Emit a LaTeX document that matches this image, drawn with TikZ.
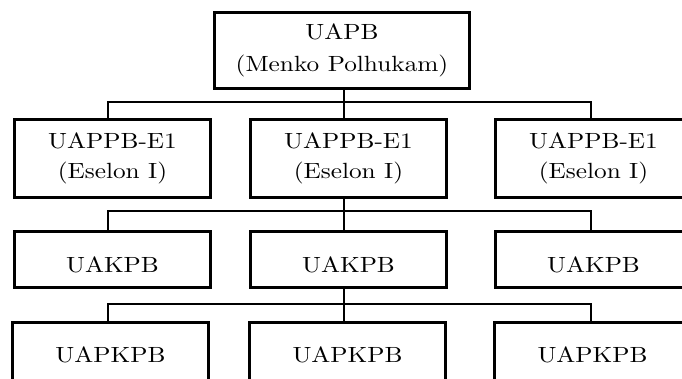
\documentclass[tikz,border=0pt]{standalone}
\usepackage{fontspec}
\setmainfont{lmroman10-regular.otf}[FakeStretch=1.15]
\begin{document}
\begin{tikzpicture}[x=1pt,y=-1pt,
  box/.style={draw, line width=2.6pt, rectangle, inner sep=0pt, anchor=north west, align=center},
  bigbox/.style={box, minimum width=255.4pt, minimum height=76.4pt, font=\fontsize{22}{32}\selectfont},
  tallbox/.style={box, minimum width=196.4pt, minimum height=78.4pt, font=\fontsize{22}{30}\selectfont},
  shortbox/.style={box, minimum width=196.4pt, minimum height=56.4pt, text height=25pt, text depth=0pt, font=\fontsize{22}{30}\selectfont},
  lowbox/.style={box, minimum width=196.4pt, minimum height=87.4pt, text height=14pt, text depth=22pt, font=\fontsize{22}{30}\selectfont},
  link/.style={line width=2pt}]
\useasboundingbox (0,0) rectangle (682,379);
\clip (0,0) rectangle (682,379);
% top
\node[bigbox] (top) at (213,11) {UAPB\\(Menko Polhukam)};
% row 2
\node[tallbox] (l2) at (13,118) {UAPPB-E1\\(Eselon I)};
\node[tallbox] (m2) at (249,118) {UAPPB-E1\\(Eselon I)};
\node[tallbox] (r2) at (494,118) {UAPPB-E1\\(Eselon I)};
% row 3
\node[shortbox] (l3) at (13,230) {UAKPB};
\node[shortbox] (m3) at (249,230) {UAKPB};
\node[shortbox] (r3) at (494,230) {UAKPB};
% row 4
\node[lowbox] (l4) at (11,321) {UAPKPB};
\node[lowbox] (m4) at (248,321) {UAPKPB};
\node[lowbox] (r4) at (493,321) {UAPKPB};
% bus junctions
\coordinate (j1L) at (108,102); \coordinate (j1M) at (343.5,102); \coordinate (j1R) at (591,102);
\coordinate (j2L) at (108,211); \coordinate (j2M) at (343.5,211); \coordinate (j2R) at (591,211);
\coordinate (j3L) at (108,304); \coordinate (j3M) at (343.5,304); \coordinate (j3R) at (591,304);
% connectors
\draw[link] (top.south -| j1M) -- (m2.north -| j1M);
\draw[link] (l2.north -| j1L) |- (j1R) -- (r2.north -| j1R);
\draw[link] (m2.south -| j2M) -- (m3.north -| j2M);
\draw[link] (l3.north -| j2L) |- (j2R) -- (r3.north -| j2R);
\draw[link] (m3.south -| j3M) -- (m4.north -| j3M);
\draw[link] (l4.north -| j3L) |- (j3R) -- (r4.north -| j3R);
\end{tikzpicture}
\end{document}
